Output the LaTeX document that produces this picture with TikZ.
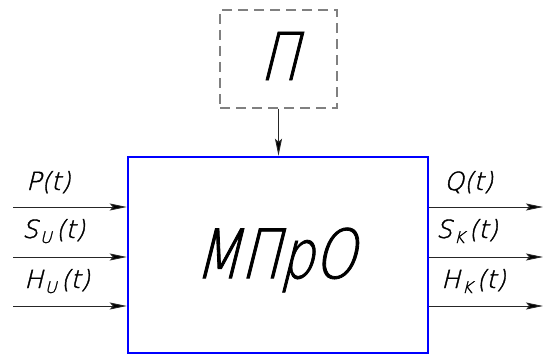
\documentclass[tikz,border=0pt]{standalone}
\usepackage{fontspec}
\usetikzlibrary{arrows.meta}
\newfontfamily\gost[FakeSlant=0.25,FakeBold=1.5]{DejaVu Sans ExtraLight}
\newfontfamily\gostn[FakeSlant=0.25,FakeBold=1.2,FakeStretch=0.78]{DejaVu Sans ExtraLight}
\newcommand{\mysub}[1]{\kern2pt\raisebox{-5pt}{\fontsize{16}{16}\selectfont #1}\kern4pt}
\begin{document}
\begin{tikzpicture}[x=1pt,y=1pt,
  sig/.style={draw=black!85, line width=0.9pt, -{Stealth[length=17pt,width=7pt,inset=3pt,fill=black]}},
  lbl/.style={anchor=base west, inner sep=0pt, font=\gost\fontsize{25}{25}\selectfont},
  mainbox/.style={draw=blue, line width=2.5pt},
  dbox/.style={draw=black!50, line width=1.3pt, dash pattern=on 10pt off 6pt}]
\useasboundingbox (0,0) rectangle (546,354);
\node[mainbox, minimum width=300pt, minimum height=196pt, inner sep=0pt] (m) at (278,99) {};
\node[font=\gostn\fontsize{68}{68}\selectfont, inner sep=0pt] (mt) at (275,94) {МПрО};
\node[dbox, minimum width=117pt, minimum height=98pt, inner sep=0pt] (p) at (278.5,295) {};
\node[font=\gostn\fontsize{66}{66}\selectfont, inner sep=0pt] (pt) at (279,298) {П};
\draw[sig] (p.south) -- (p.south |- m.north);
\coordinate (i1) at (13,147);
\coordinate (i2) at (13,97);
\coordinate (i3) at (13,48);
\draw[sig] (i1) -- (i1 -| m.west);
\draw[sig] (i2) -- (i2 -| m.west);
\draw[sig] (i3) -- (i3 -| m.west);
\coordinate (o1) at (543,147);
\coordinate (o2) at (543,97);
\coordinate (o3) at (543,48);
\draw[sig] (o1 -| m.east) -- (o1);
\draw[sig] (o2 -| m.east) -- (o2);
\draw[sig] (o3 -| m.east) -- (o3);
\node[lbl] (l1) at (26,164) {P(t)};
\node[lbl] (l2) at (22,116) {S\mysub{U}(t)};
\node[lbl] (l3) at (24,66) {H\mysub{U}(t)};
\node[lbl] (r1) at (444,164) {Q(t)};
\node[lbl] (r2) at (436,116) {S\mysub{K}(t)};
\node[lbl] (r3) at (441,66) {H\mysub{K}(t)};
\end{tikzpicture}
\end{document}
